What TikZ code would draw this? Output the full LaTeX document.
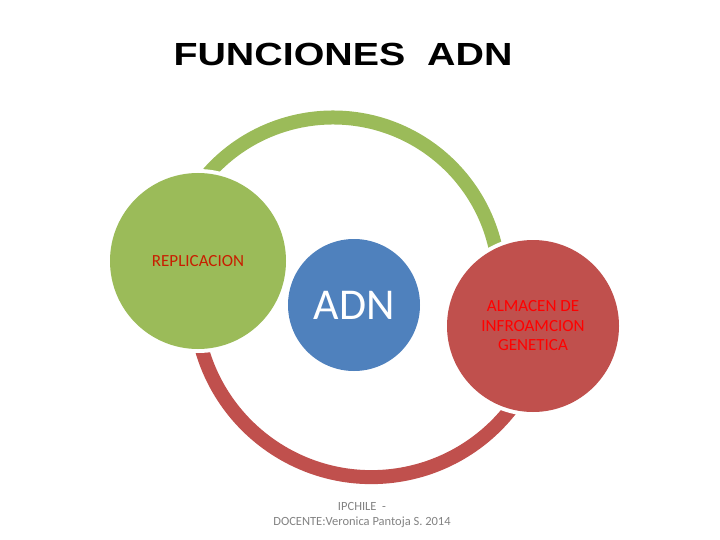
\documentclass[tikz,border=0pt]{standalone}
\usepackage{fontspec}
\setmainfont{Carlito}
\newfontfamily\titlefont{Liberation Sans}
\usetikzlibrary{positioning}

\definecolor{ringgreen}{RGB}{155,187,89}
\definecolor{ringred}{RGB}{192,80,77}
\definecolor{coreblue}{RGB}{79,129,189}
\definecolor{labelred}{RGB}{200,30,0}
\definecolor{creditgray}{RGB}{130,130,130}

\begin{document}
\begin{tikzpicture}[x=1pt, y=1pt,
    bubble/.style={circle, inner sep=0pt, align=center,
                   preaction={draw=white, line width=8pt}},
    band/.style={line width=14pt},
    credit/.style={font=\fontsize{12.5}{14.5}\selectfont, text=creditgray, align=center},
  ]
  \useasboundingbox (0,0) rectangle (720,-540);

  \node[font=\titlefont\bfseries\fontsize{32}{36}\selectfont] (title) at (343,-54)
    {\scalebox{1.23}[1]{FUNCIONES\ \ ADN}};

  % ring behind the circles
  \coordinate (topc) at (333,-284);
  \coordinate (botc) at (371.5,-300.6);
  \draw[band, ringgreen] ([shift={(145:166.5)}]topc) arc[start angle=145, end angle=5, radius=166.5];
  \draw[band, ringred] ([shift={(190:176.5)}]botc) arc[start angle=190, end angle=330, radius=176.5];

  \node[bubble, fill=ringgreen, minimum size=176pt, text=labelred,
        font=\fontsize{17}{20}\selectfont] (repl) at (198,-261) {REPLICACION};
  \node[bubble, fill=coreblue, minimum size=132pt, text=white,
        font=\fontsize{44}{50}\selectfont] (adn) at (354,-305) {ADN};
  \node[bubble, fill=ringred, minimum size=172pt, text=red,
        font=\fontsize{17}{19.5}\selectfont] (almacen) at (533,-326)
    {ALMACEN DE\\INFROAMCION\\GENETICA};

  \node[credit] (docente) at (362,-515) {IPCHILE \ -\\DOCENTE:Veronica Pantoja S. 2014};
\end{tikzpicture}
\end{document}
